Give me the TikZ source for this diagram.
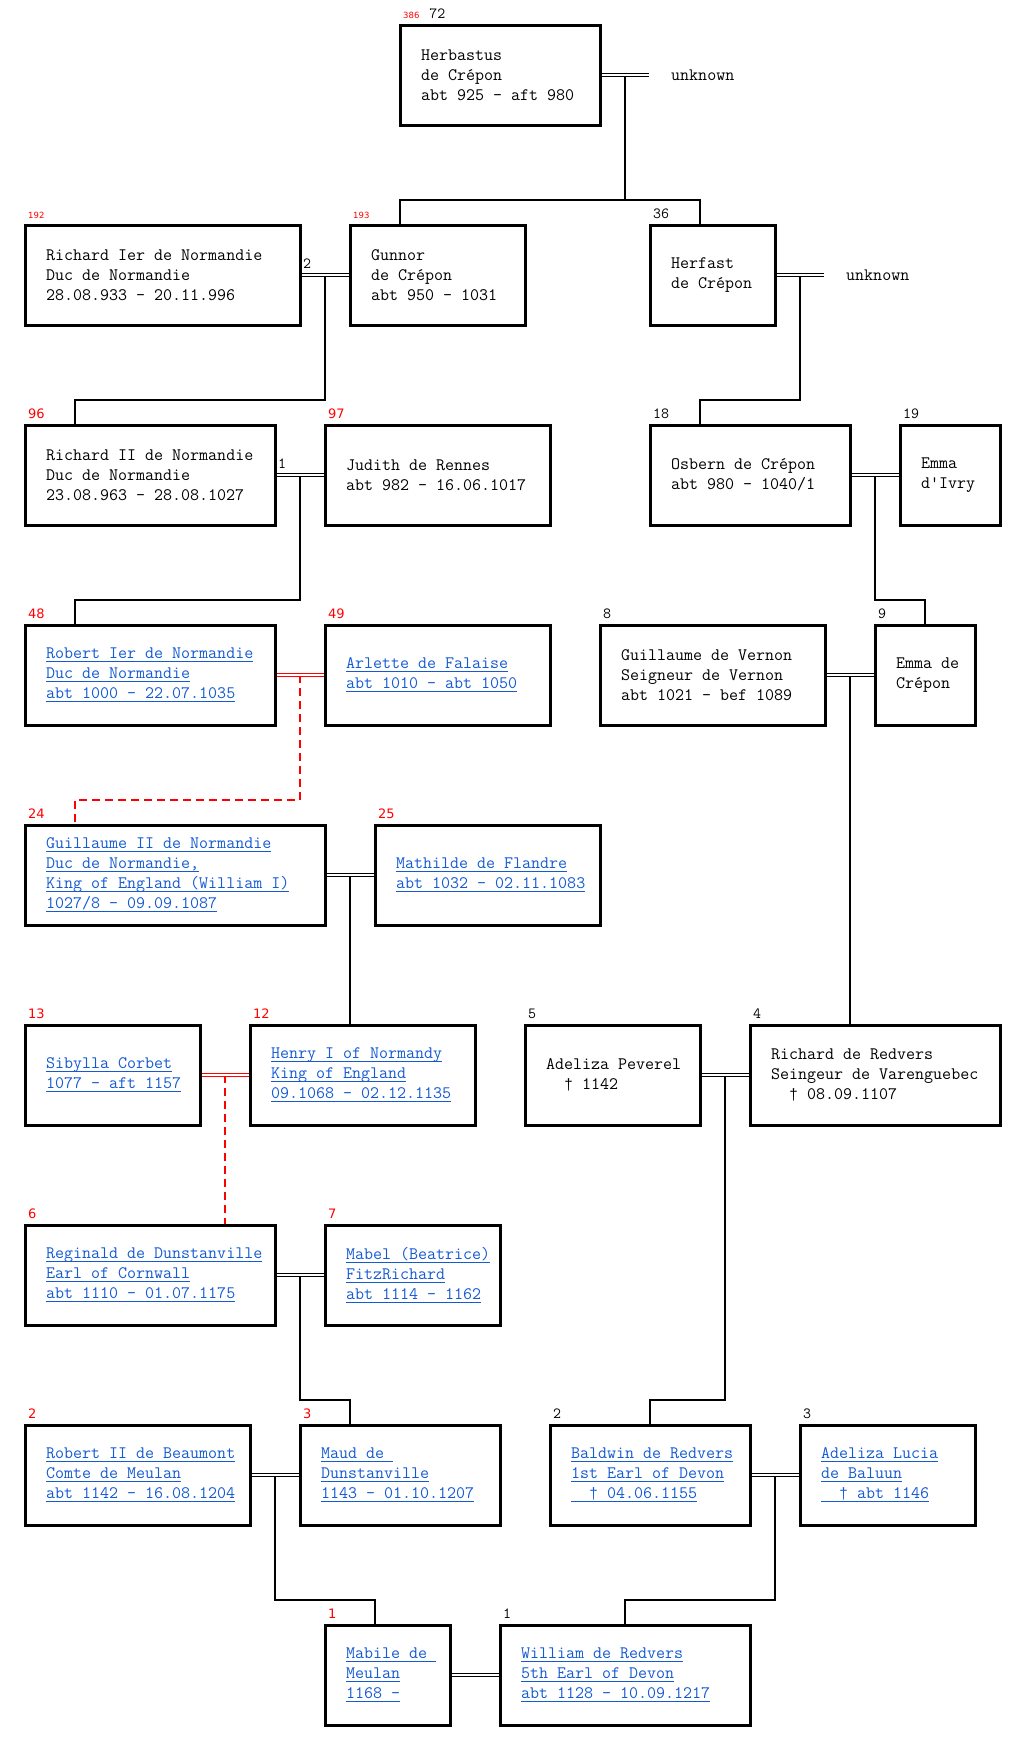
\documentclass[tikz,border=0pt]{standalone}
\usepackage{fontspec}
\usepackage{tikz}
\usetikzlibrary{backgrounds}
\newfontfamily\dagfont{Liberation Mono}
\newfontfamily\numfont{DejaVu Sans}
\definecolor{linkblue}{RGB}{20,90,210}
\newcommand{\ptxt}[1]{\mbox{\spaceskip=0pt\xspaceskip=0pt\relax #1}}
\newcommand{\lnk}[1]{\leavevmode\setbox0\hbox{\spaceskip=0pt\xspaceskip=0pt\relax #1}\rlap{\rule[-3.5pt]{\wd0}{1pt}}\box0}
\newcommand{\idx}[1]{\textcolor{red}{\fontsize{8.5}{9}\numfont #1}}
\newcommand{\dg}{{\fontsize{15}{20}\dagfont †}}

\begin{document}
\begin{tikzpicture}[x=1pt, y=-1pt,
  pbox/.style={draw, line width=3pt, outer sep=0pt, minimum height=100pt,
    inner xsep=21pt, inner ysep=0pt, align=left, font={\fontsize{17.5}{20}\ttfamily}},
  psn/.code={\pgfmathsetmacro\tw{#1-42}%
    \edef\tmpbw{\noexpand\pgfkeysalso{pbox, minimum width=#1pt, text width=\tw pt}}\tmpbw},
  lpsn/.style={psn=#1, text=linkblue},
  unk/.style={anchor=west, inner xsep=21pt, font={\fontsize{17.5}{20}\ttfamily}},
  knum/.style={draw=none, text=black, inner sep=0pt, anchor=base west,
    xshift=3pt, yshift=7pt, font={\fontsize{15.5}{15}\ttfamily}},
  rnum/.style={knum, text=red, font={\fontsize{13}{13}\numfont}},
  mar/.style={double, double distance=2.2pt, line width=1pt, shorten <=1.5pt, shorten >=1.5pt},
  rmar/.style={mar, draw=red},
  desc/.style={line width=2pt},
  rdesc/.style={desc, red, dash pattern=on 8pt off 5pt}]
\useasboundingbox (0,0) rectangle (1026,1751);

\node[psn=200, label={[knum]north west:{\idx{386}\hspace{10pt}72}}] (hb) at (500,75)
  {\ptxt{Herbastus}\\\ptxt{de Crépon}\\\ptxt{abt 925 - aft 980}};
\node[unk] (u1) at (650,75) {unknown};

\node[psn=275, label={[knum]north west:\idx{192}}, label={[knum]east:2}] (r1) at (162.5,275)
  {\ptxt{Richard Ier de Normandie}\\\ptxt{Duc de Normandie}\\\ptxt{28.08.933 - 20.11.996}};
\node[psn=175, label={[knum]north west:\idx{193}}] (gun) at (437.5,275)
  {\ptxt{Gunnor}\\\ptxt{de Crépon}\\\ptxt{abt 950 - 1031}};
\node[psn=125, label={[knum]north west:36}] (hf) at (712.5,275)
  {\ptxt{Herfast}\\\ptxt{de Crépon}};
\node[unk] (u2) at (825,275) {unknown};

\node[psn=250, label={[rnum]north west:96}, label={[knum]east:1}] (r2) at (150,475)
  {\ptxt{Richard II de Normandie}\\\ptxt{Duc de Normandie}\\\ptxt{23.08.963 - 28.08.1027}};
\node[psn=225, label={[rnum]north west:97}] (jud) at (437.5,475)
  {\ptxt{Judith de Rennes}\\\ptxt{abt 982 - 16.06.1017}};
\node[psn=200, label={[knum]north west:18}] (osb) at (750,475)
  {\ptxt{Osbern de Crépon}\\\ptxt{abt 980 - 1040/1}};
\node[psn=100, label={[knum]north west:19}] (emi) at (950,475)
  {\ptxt{Emma}\\\ptxt{d\textquotesingle Ivry}};

\node[lpsn=250, label={[rnum]north west:48}] (rob) at (150,675)
  {\lnk{Robert Ier de Normandie}\\\lnk{Duc de Normandie}\\\lnk{abt 1000 - 22.07.1035}};
\node[lpsn=225, label={[rnum]north west:49}] (arl) at (437.5,675)
  {\lnk{Arlette de Falaise}\\\lnk{abt 1010 - abt 1050}};
\node[psn=225, label={[knum]north west:8}] (gv) at (712.5,675)
  {\ptxt{Guillaume de Vernon}\\\ptxt{Seigneur de Vernon}\\\ptxt{abt 1021 - bef 1089}};
\node[psn=100, label={[knum]north west:9}] (ec) at (925,675)
  {\ptxt{Emma de}\\\ptxt{Crépon}};

\node[lpsn=300, label={[rnum]north west:24}] (gw) at (175,875)
  {\lnk{Guillaume II de Normandie}\\\lnk{Duc de Normandie,}\\\lnk{King of England (William I)}\\\lnk{1027/8 - 09.09.1087}};
\node[lpsn=225, label={[rnum]north west:25}] (mat) at (487.5,875)
  {\lnk{Mathilde de Flandre}\\\lnk{abt 1032 - 02.11.1083}};

\node[lpsn=175, label={[rnum]north west:13}] (sib) at (112.5,1075)
  {\lnk{Sibylla Corbet}\\\lnk{1077 - aft 1157}};
\node[lpsn=225, label={[rnum]north west:12}] (hen) at (362.5,1075)
  {\lnk{Henry I of Normandy}\\\lnk{King of England}\\\lnk{09.1068 - 02.12.1135}};
\node[psn=175, label={[knum]north west:5}] (ap) at (612.5,1075)
  {\ptxt{Adeliza Peverel}\\\ptxt{\phantom{00}\dg{} 1142}};
\node[psn=250, label={[knum]north west:4}] (rr) at (875,1075)
  {\ptxt{Richard de Redvers}\\\ptxt{Seingeur de Varenguebec}\\\ptxt{\phantom{00}\dg{} 08.09.1107}};

\node[lpsn=250, label={[rnum]north west:6}] (reg) at (150,1275)
  {\lnk{Reginald de Dunstanville}\\\lnk{Earl of Cornwall}\\\lnk{abt 1110 - 01.07.1175}};
\node[lpsn=175, label={[rnum]north west:7}] (mab) at (412.5,1275)
  {\lnk{Mabel (Beatrice)}\\\lnk{FitzRichard}\\\lnk{abt 1114 - 1162}};

\node[lpsn=225, label={[rnum]north west:2}] (rb2) at (137.5,1475)
  {\lnk{Robert II de Beaumont}\\\lnk{Comte de Meulan}\\\lnk{abt 1142 - 16.08.1204}};
\node[lpsn=200, label={[rnum]north west:3}] (mau) at (400,1475)
  {\lnk{Maud de }\\\lnk{Dunstanville}\\\lnk{1143 - 01.10.1207}};
\node[lpsn=200, label={[knum]north west:2}] (bal) at (650,1475)
  {\lnk{Baldwin de Redvers}\\\lnk{1st Earl of Devon}\\\lnk{\phantom{00}\dg{} 04.06.1155}};
\node[lpsn=175, label={[knum]north west:3}] (adl) at (887.5,1475)
  {\lnk{Adeliza Lucia}\\\lnk{de Baluun}\\\lnk{\phantom{00}\dg{} abt 1146}};

\node[lpsn=125, label={[rnum]north west:1}] (mbl) at (387.5,1675)
  {\lnk{Mabile de }\\\lnk{Meulan}\\\lnk{1168 -}};
\node[lpsn=250, label={[knum]north west:1}] (wil) at (625,1675)
  {\lnk{William de Redvers}\\\lnk{5th Earl of Devon}\\\lnk{abt 1128 - 10.09.1217}};

\draw[mar] (hb.east) -- coordinate (m0) (u1.west);
\draw[mar] (r1.east) -- coordinate (m1) (gun.west);
\draw[mar] (hf.east) -- coordinate (m2) (u2.west);
\draw[mar] (r2.east) -- coordinate (m3) (jud.west);
\draw[mar] (osb.east) -- coordinate (m4) (emi.west);
\draw[rmar] (rob.east) -- coordinate (m5) (arl.west);
\draw[mar] (gv.east) -- coordinate (m6) (ec.west);
\draw[mar] (gw.east) -- coordinate (m7) (mat.west);
\draw[rmar] (sib.east) -- coordinate (m8) (hen.west);
\draw[mar] (ap.east) -- coordinate (m9) (rr.west);
\draw[mar] (reg.east) -- coordinate (m10) (mab.west);
\draw[mar] (rb2.east) -- coordinate (m11) (mau.west);
\draw[mar] (bal.east) -- coordinate (m12) (adl.west);
\draw[mar] (mbl.east) -- (wil.west);

\begin{scope}[on background layer]
\draw[desc] (m0) -- ++(0,125) coordinate (b0) -| ([xshift=50pt]gun.north west)
  (b0) -| ([xshift=50pt]hf.north west);
\draw[desc] (m1) -- ++(0,125) -| ([xshift=50pt]r2.north west);
\draw[desc] (m2) -- ++(0,125) -| ([xshift=50pt]osb.north west);
\draw[desc] (m3) -- ++(0,125) -| ([xshift=50pt]rob.north west);
\draw[desc] (m4) -- ++(0,125) -| ([xshift=50pt]ec.north west);
\draw[rdesc] (m5) -- ++(0,125) -| ([xshift=50pt]gw.north west);
\draw[desc] (m6) -- (m6 |- rr.north);
\draw[desc] (m7) -- (m7 |- hen.north);
\draw[rdesc] (m8) -- (m8 |- reg.north);
\draw[desc] (m9) -- ++(0,325) -| ([xshift=100pt]bal.north west);
\draw[desc] (m10) -- ++(0,125) -| ([xshift=50pt]mau.north west);
\draw[desc] (m11) -- ++(0,125) -| ([xshift=50pt]mbl.north west);
\draw[desc] (m12) -- ++(0,125) -| (wil.north);
\end{scope}
\end{tikzpicture}
\end{document}
